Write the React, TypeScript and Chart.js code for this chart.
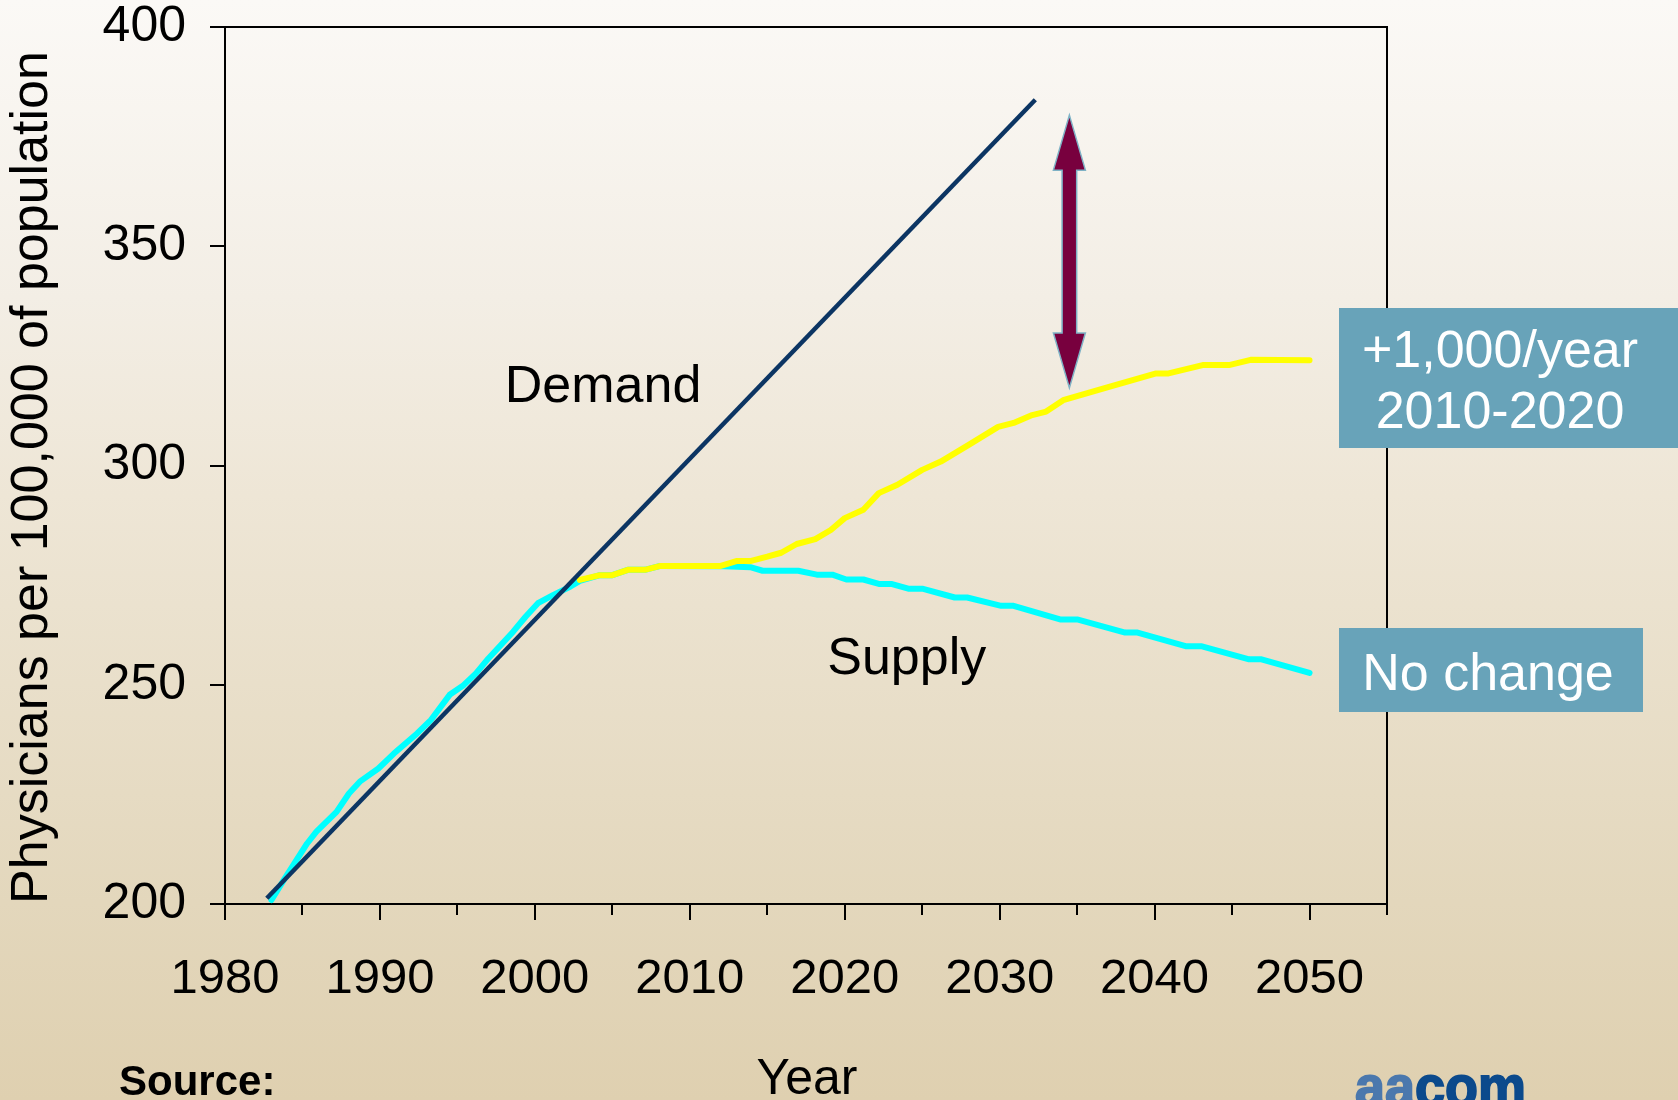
import React, { useEffect, useRef } from 'react';
import { Chart, registerables } from 'chart.js';

Chart.register(...registerables);

const FONT = '"Liberation Sans", Arial, Helvetica, sans-serif';

// Demand projection (straight line)
const demandYears = [1982.7, 2032.3];
const demandValues = [201.3, 383.4];

// Supply, no change scenario
const noChangeYears = [
  1983.0, 1983.8, 1985.3, 1985.9, 1987.2, 1988.0, 1988.7, 1989.9, 1990.9, 1992.4,
  1993.3, 1994.5, 1995.4, 1996.2, 1997.0, 1998.6, 1999.4, 2000.2, 2001.2, 2002.3,
  2002.9, 2004.2, 2005.0, 2006.0, 2007.1, 2008.1, 2012.2, 2013.9, 2014.7, 2017.0,
  2018.2, 2019.2, 2020.1, 2021.2, 2022.2, 2023.0, 2024.1, 2025.0, 2027.1, 2027.9,
  2030.1, 2030.9, 2033.9, 2035.0, 2038.1, 2038.9, 2042.0, 2043.0, 2046.1, 2046.9,
  2050.0,
];
const noChangeValues = [
  200.9, 205.5, 213.8, 216.5, 221.0, 225.2, 227.9, 230.9, 234.3, 238.9,
  242.0, 247.7, 249.9, 252.6, 256.0, 262.1, 265.5, 268.6, 270.5, 272.4,
  273.7, 275.0, 275.0, 276.2, 276.2, 277.1, 277.0, 276.8, 276.0, 276.0,
  275.1, 275.1, 274.0, 274.0, 273.0, 273.0, 271.9, 271.9, 269.9, 269.9,
  268.0, 268.0, 264.9, 264.9, 261.9, 261.9, 258.8, 258.8, 255.8, 255.8,
  252.7,
];

// Supply, +1,000/year 2010-2020 scenario
const plusYears = [
  2002.9, 2004.2, 2005.0, 2006.0, 2007.1, 2008.1, 2012.0, 2013.0, 2013.9, 2015.0,
  2015.9, 2016.9, 2018.1, 2019.1, 2020.0, 2021.2, 2022.2, 2023.4, 2025.0, 2026.2,
  2028.0, 2029.9, 2030.9, 2032.1, 2033.0, 2034.1, 2037.0, 2040.1, 2040.9, 2043.1,
  2044.8, 2046.2, 2050.0,
];
const plusValues = [
  273.9, 275.0, 275.0, 276.2, 276.2, 277.1, 277.1, 278.2, 278.2, 279.2,
  280.1, 282.1, 283.2, 285.3, 288.0, 289.9, 293.7, 295.6, 299.0, 300.9,
  304.7, 308.8, 309.7, 311.5, 312.3, 314.9, 317.9, 321.0, 321.0, 322.9,
  322.9, 324.1, 324.0,
];

const xTickYears = [1980, 1985, 1990, 1995, 2000, 2005, 2010, 2015, 2020, 2025, 2030, 2035, 2040, 2045, 2050, 2055];
const xLabelYears = [1980, 1990, 2000, 2010, 2020, 2030, 2040, 2050];
const yTickValues = [200, 250, 300, 350, 400];

// gap arrow (year, bottom value, top value)
const arrowYear = 2034.5;
const arrowBottom = 317.7;
const arrowTop = 379.9;

const yTitle = 'Physicians per 100,000 of population';
const xTitle = 'Year';
const sourceText = 'Source:';
const demandLabel = { text: 'Demand', year: 2004.4, value: 314.5 };
const supplyLabel = { text: 'Supply', year: 2024.0, value: 252.4 };
const plusBoxLines = ['+1,000/year', '2010-2020'];
const noChangeBoxText = 'No change';

const BOX_COLOR = '#68a3b9';

const decorPlugin = {
  id: 'decor',
  afterDatasetsDraw(chart: any) {
    const { ctx, scales } = chart;
    const x = scales.x;
    const y = scales.y;
    // double-headed arrow
    const ax = x.getPixelForValue(arrowYear);
    const yT = y.getPixelForValue(arrowTop);
    const yB = y.getPixelForValue(arrowBottom);
    const hw = 16, hl = 55, sw = 7.3;
    ctx.save();
    ctx.beginPath();
    ctx.moveTo(ax, yT);
    ctx.lineTo(ax + hw, yT + hl);
    ctx.lineTo(ax + sw, yT + hl);
    ctx.lineTo(ax + sw, yB - hl);
    ctx.lineTo(ax + hw, yB - hl);
    ctx.lineTo(ax, yB);
    ctx.lineTo(ax - hw, yB - hl);
    ctx.lineTo(ax - sw, yB - hl);
    ctx.lineTo(ax - sw, yT + hl);
    ctx.lineTo(ax - hw, yT + hl);
    ctx.closePath();
    ctx.fillStyle = '#78003e';
    ctx.fill();
    ctx.lineWidth = 1.5;
    ctx.strokeStyle = '#7fb2c6';
    ctx.stroke();
    ctx.restore();
  },
  afterDraw(chart: any) {
    const { ctx, chartArea: ca, scales, width } = chart;
    const x = scales.x;
    const y = scales.y;
    ctx.save();
    // frame: top and right
    ctx.strokeStyle = '#000';
    ctx.lineWidth = 2;
    ctx.beginPath();
    ctx.moveTo(ca.left, ca.top);
    ctx.lineTo(ca.right, ca.top);
    ctx.lineTo(ca.right, ca.bottom);
    ctx.stroke();
    // y ticks (outward)
    ctx.beginPath();
    for (const t of y.ticks) {
      const py = Math.round(y.getPixelForValue(t.value));
      ctx.moveTo(ca.left - 15, py);
      ctx.lineTo(ca.left, py);
    }
    // x ticks: long at labelled years, short otherwise
    for (const t of x.ticks) {
      const px = Math.round(x.getPixelForValue(t.value));
      const len = xLabelYears.includes(t.value) ? 16 : 11;
      ctx.moveTo(px, ca.bottom);
      ctx.lineTo(px, ca.bottom + len);
    }
    ctx.stroke();

    // series labels
    ctx.fillStyle = '#000';
    ctx.font = `52px ${FONT}`;
    ctx.textAlign = 'center';
    ctx.textBaseline = 'alphabetic';
    ctx.fillText(demandLabel.text, x.getPixelForValue(demandLabel.year), y.getPixelForValue(demandLabel.value));
    ctx.fillText(supplyLabel.text, x.getPixelForValue(supplyLabel.year), y.getPixelForValue(supplyLabel.value));

    // axis titles
    ctx.save();
    ctx.translate(47, (ca.top + ca.bottom) / 2 + 12);
    ctx.rotate(-Math.PI / 2);
    ctx.font = `52px ${FONT}`;
    ctx.fillText(yTitle, 0, 0);
    ctx.restore();

    ctx.font = `50px ${FONT}`;
    ctx.fillText(xTitle, 807, 1094);

    ctx.font = `bold 42px ${FONT}`;
    ctx.textAlign = 'left';
    ctx.fillText(sourceText, 119, 1095);

    // aacom logo text
    ctx.save();
    ctx.translate(1355, 1106);
    ctx.scale(0.93, 1);
    ctx.font = `900 58px ${FONT}`;
    ctx.textAlign = 'left';
    ctx.fillStyle = '#4b78ad';
    ctx.lineWidth = 2;
    ctx.strokeStyle = '#4b78ad';
    ctx.fillText('aa', 0, 0);
    ctx.strokeText('aa', 0, 0);
    const aaW = ctx.measureText('aa').width;
    ctx.fillStyle = '#0c4a8c';
    ctx.strokeStyle = '#0c4a8c';
    ctx.fillText('com', aaW, 0);
    ctx.strokeText('com', aaW, 0);
    ctx.restore();

    // scenario boxes
    const bx = ca.right - 48;
    ctx.fillStyle = BOX_COLOR;
    ctx.fillRect(bx, 308, width - bx, 140);
    ctx.fillRect(bx, 628, 304, 84);
    ctx.fillStyle = '#ffffff';
    ctx.font = `52px ${FONT}`;
    ctx.textAlign = 'center';
    ctx.fillText(plusBoxLines[0], 1500, 367);
    ctx.fillText(plusBoxLines[1], 1500, 428);
    ctx.fillText(noChangeBoxText, 1488, 690);
    ctx.restore();
  },
};

export default function App() {
  const canvasRef = useRef<HTMLCanvasElement | null>(null);

  useEffect(() => {
    const canvas = canvasRef.current;
    if (!canvas) return;
    const toPts = (xs: number[], ys: number[]) => xs.map((v, i) => ({ x: v, y: ys[i] }));
    const chart = new Chart(canvas, {
      type: 'line',
      data: {
        datasets: [
          {
            label: 'Demand',
            data: toPts(demandYears, demandValues),
            borderColor: '#0c3563',
            borderWidth: 4.5,
            pointRadius: 0,
            tension: 0,
            fill: false,
          },
          {
            label: '+1,000/year 2010-2020',
            data: toPts(plusYears, plusValues),
            borderColor: '#ffff00',
            borderWidth: 6,
            pointRadius: 0,
            tension: 0,
            borderJoinStyle: 'round',
            borderCapStyle: 'round',
            fill: false,
          },
          {
            label: 'No change',
            data: toPts(noChangeYears, noChangeValues),
            borderColor: '#00ffff',
            borderWidth: 6,
            pointRadius: 0,
            tension: 0,
            borderJoinStyle: 'round',
            borderCapStyle: 'round',
            fill: false,
          },
        ],
      } as any,
      options: {
        animation: false,
        responsive: false,
        devicePixelRatio: 1,
        layout: { padding: { top: 0, left: 0, right: 291, bottom: 0 } },
        plugins: {
          legend: { display: false },
          tooltip: { enabled: false },
        },
        scales: {
          x: {
            type: 'linear',
            position: 'bottom',
            min: 1980,
            max: 2055,
            afterBuildTicks: (s: any) => {
              s.ticks = xTickYears.map((v) => ({ value: v }));
            },
            afterFit: (s: any) => {
              s.height = 196;
            },
            grid: {
              display: true,
              drawOnChartArea: false,
              drawTicks: true,
              tickLength: 16,
              tickColor: 'rgba(0,0,0,0)',
            },
            border: { display: true, color: '#000', width: 2 },
            ticks: {
              autoSkip: false,
              maxRotation: 0,
              minRotation: 0,
              padding: 30,
              color: '#000',
              font: { family: FONT, size: 49 },
              callback: (v: any) => (xLabelYears.includes(Number(v)) ? String(v) : ''),
            },
          },
          y: {
            type: 'linear',
            min: 200,
            max: 400,
            afterBuildTicks: (s: any) => {
              s.ticks = yTickValues.map((v) => ({ value: v }));
            },
            afterFit: (s: any) => {
              s.width = 225;
            },
            grid: {
              display: true,
              drawOnChartArea: false,
              drawTicks: true,
              tickLength: 39,
              tickColor: 'rgba(0,0,0,0)',
            },
            border: { display: true, color: '#000', width: 2 },
            ticks: {
              padding: 0,
              color: '#000',
              font: { family: FONT, size: 50, lineHeight: 1.08 },
              callback: (v: any) => String(v),
            },
          },
        },
      } as any,
      plugins: [decorPlugin],
    });
    return () => chart.destroy();
  }, []);

  return (
    <div
      style={{
        position: 'absolute',
        left: 0,
        top: 0,
        width: 1678,
        height: 1100,
        overflow: 'hidden',
        background:
          'linear-gradient(to bottom, #fbf9f6 0%, #f3eee5 27%, #eee6d6 45%, #e3d7bc 82%, #dfd0b0 100%)',
      }}
    >
      <canvas ref={canvasRef} width={1678} height={1100} style={{ display: 'block' }} />
    </div>
  );
}
